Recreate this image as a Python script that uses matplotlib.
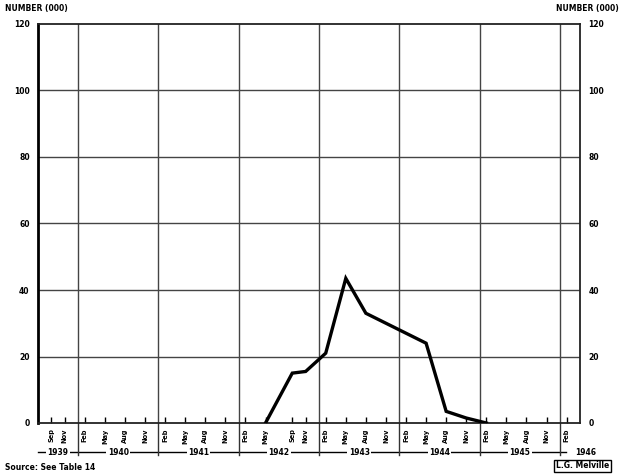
import matplotlib
matplotlib.use('Agg')
import matplotlib.pyplot as plt
import matplotlib.transforms as mtransforms

# quarterly series, thousands
dates = [(1942, 5), (1942, 9), (1942, 11), (1943, 2), (1943, 5), (1943, 8),
         (1943, 11), (1944, 2), (1944, 5), (1944, 8), (1944, 11), (1945, 2)]
values = [0, 15, 15.5, 21, 43.5, 33, 30, 27, 24, 3.5, 1.5, 0]

# month ticks along the time axis
tick_dates = [(1939, 9), (1939, 11),
              (1940, 2), (1940, 5), (1940, 8), (1940, 11),
              (1941, 2), (1941, 5), (1941, 8), (1941, 11),
              (1942, 2), (1942, 5), (1942, 9), (1942, 11),
              (1943, 2), (1943, 5), (1943, 8), (1943, 11),
              (1944, 2), (1944, 5), (1944, 8), (1944, 11),
              (1945, 2), (1945, 5), (1945, 8), (1945, 11),
              (1946, 2)]
MONTHS = ['Jan', 'Feb', 'Mar', 'Apr', 'May', 'Jun',
          'Jul', 'Aug', 'Sep', 'Oct', 'Nov', 'Dec']
years = [1939, 1940, 1941, 1942, 1943, 1944, 1945, 1946]
y_ticks = [0, 20, 40, 60, 80, 100, 120]


def to_x(ym):
    y, m = ym
    return y + (m - 1) / 12.0


FS = 5.5
plt.rcParams['font.family'] = ['DejaVu Sans']

fig = plt.figure(figsize=(6.21, 4.76), dpi=100)
fig.patch.set_facecolor('white')
ax = fig.add_axes([38 / 621, 53 / 476, 542 / 621, 399 / 476])

ax.set_xlim(1939.5, 1946.25)
ax.set_ylim(0, 120)

# grid: horizontal every 20, vertical at each new year
for v in y_ticks[1:-1]:
    ax.axhline(v, color='#444444', lw=1.0, zorder=1)
for yr in years[1:]:
    ax.axvline(yr, color='#444444', lw=1.0, zorder=1)

ax.plot([to_x(d) for d in dates], values, color='black', lw=2.4,
        solid_joinstyle='miter', zorder=3)

# spines
for side in ['top', 'right', 'bottom']:
    ax.spines[side].set_color('#222222')
    ax.spines[side].set_linewidth(1.3)
ax.spines['left'].set_color('black')
ax.spines['left'].set_linewidth(2.0)

# y labels on both sides
ax.set_yticks(y_ticks)
ax.set_yticklabels([str(v) for v in y_ticks], fontsize=FS, fontweight='bold')
ax.tick_params(axis='y', length=0, pad=6, labelleft=True, labelright=True)

# month ticks
ax.set_xticks([to_x(d) for d in tick_dates])
ax.set_xticklabels([MONTHS[m - 1] for _, m in tick_dates],
                   rotation=90, fontsize=4.8, fontweight='bold', va='top')
ax.tick_params(axis='x', direction='in', length=4, width=1.0, pad=4)

# year row under the month labels
tr = mtransforms.blended_transform_factory(ax.transData, ax.transAxes)
row_y = -0.073
ax.plot([1939.5, 1946.08], [row_y, row_y], color='black', lw=1.0,
        transform=tr, clip_on=False)
for yr in years[1:]:
    ax.plot([yr, yr], [0, row_y - 0.006], color='#333333', lw=1.0,
            transform=tr, clip_on=False)
year_x = [1939.75] + [y + 0.5 for y in years[1:-1]] + [1946.32]
for yx, yr in zip(year_x, years):
    ax.text(yx, row_y, str(yr), transform=tr, ha='center', va='center',
            fontsize=FS, fontweight='bold',
            bbox=dict(facecolor='white', edgecolor='none', pad=1.0))

fig.text(5 / 621, 1 - 9 / 476, 'NUMBER (000)', fontsize=FS, fontweight='bold',
         ha='left', va='center')
fig.text(619 / 621, 1 - 9 / 476, 'NUMBER (000)', fontsize=FS, fontweight='bold',
         ha='right', va='center')
fig.text(5 / 621, 1 - 467 / 476, 'Source: See Table 14', fontsize=FS,
         fontweight='bold', ha='left', va='center')
fig.text(609 / 621, 1 - 466 / 476, 'L.G. Melville', fontsize=FS,
         fontweight='bold', ha='right', va='center',
         bbox=dict(facecolor='white', edgecolor='black', lw=1.0, pad=1.2))

fig.savefig('out.png', dpi=100, facecolor='white')
